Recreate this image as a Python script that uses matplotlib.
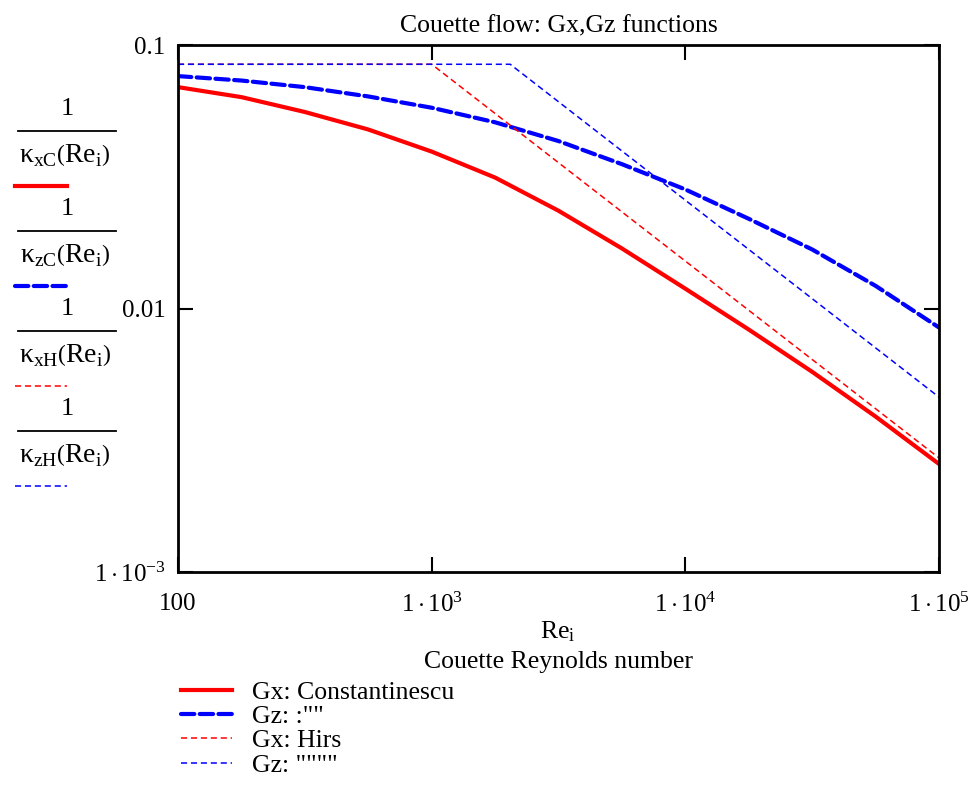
import matplotlib
matplotlib.use("Agg")
import matplotlib.pyplot as plt
from matplotlib.lines import Line2D

plt.rcParams["font.family"] = ["Liberation Serif", "DejaVu Serif"]
plt.rcParams["mathtext.fontset"] = "custom"
plt.rcParams["mathtext.rm"] = "Liberation Serif"
plt.rcParams["mathtext.it"] = "Liberation Serif:italic"
plt.rcParams["mathtext.default"] = "rm"

# Couette Reynolds number samples
re_c = [100, 178, 316, 562, 1000, 1778, 3162, 5623, 10000, 17783, 31623, 56234, 100000]
# Gx: Constantinescu (1/kappa_xC)
gx_const = [0.0692, 0.0634, 0.0557, 0.0478, 0.0394, 0.0314, 0.0235, 0.0169,
            0.01189, 0.00832, 0.00575, 0.00389, 0.00257]
# Gz: Constantinescu (1/kappa_zC)
gz_const = [0.0762, 0.0733, 0.0692, 0.0638, 0.0578, 0.0509, 0.0432, 0.0353,
            0.0283, 0.0219, 0.01675, 0.01219, 0.00847]
# Hirs (1/kappa_xH, 1/kappa_zH)
re_hx = [100, 1000, 100000]
gx_hirs = [0.0845, 0.0845, 0.00271]
re_hz = [100, 2040, 100000]
gz_hirs = [0.0845, 0.0845, 0.00461]

legend_labels = ["Gx: Constantinescu", 'Gz: :""', "Gx: Hirs", 'Gz: """"']
kappa_labels = [r"$\kappa_{xC}\left(Re_{i}\right)$", r"$\kappa_{zC}\left(Re_{i}\right)$",
                r"$\kappa_{xH}\left(Re_{i}\right)$", r"$\kappa_{zH}\left(Re_{i}\right)$"]
xticks = [100, 1000, 10000, 100000]
xtick_labels = ["100", r"$1\cdot10^{3}$", r"$1\cdot10^{4}$", r"$1\cdot10^{5}$"]
yticks = [0.001, 0.01, 0.1]
ytick_labels = [r"$1\cdot10^{-3}$", "0.01", "0.1"]

W, H = 969, 793
fx = lambda px: px / W
fy = lambda py: 1 - py / H

fig = plt.figure(figsize=(W / 100, H / 100), dpi=100)
ax = fig.add_axes([fx(178), fy(572), (939 - 178) / W, (572 - 45) / H])

styles = [
    dict(color="red", lw=3.0, ls="-"),
    dict(color="blue", lw=3.0, ls=(0, (3.2, 1.3)), dash_capstyle="round"),
    dict(color="red", lw=1.1, ls=(0, (4, 2.5))),
    dict(color="blue", lw=1.1, ls=(0, (4, 2.5))),
]
series = [(re_c, gx_const), (re_c, gz_const), (re_hx, gx_hirs), (re_hz, gz_hirs)]

handles = []
for (x, y), st, lab in zip(series, styles, legend_labels):
    ln, = ax.plot(x, y, label=lab, **st)
    handles.append(ln)

ax.set_xscale("log")
ax.set_yscale("log")
ax.set_xlim(100, 100000)
ax.set_ylim(0.001, 0.1)
ax.set_xticks(xticks, xtick_labels)
ax.set_yticks(yticks, ytick_labels)
ax.minorticks_off()
ax.tick_params(direction="in", length=11, width=1.5, labelsize=18,
               top=True, right=True, pad=9)
ax.tick_params(axis="x", pad=15)
for s in ax.spines.values():
    s.set_linewidth(2)
ax.set_title("Couette flow: Gx,Gz functions", fontsize=18.5, pad=9)

fig.text(fx(558), fy(632), r"$Re_{i}$", ha="center", va="center", fontsize=18.5)
fig.text(fx(558), fy(662), "Couette Reynolds number", ha="center", va="center", fontsize=18.5)

# left-hand stacked labels
for i, (st, kl) in enumerate(zip(styles, kappa_labels)):
    y0 = 109 + i * 100
    fig.text(fx(67), fy(y0), "1", ha="center", va="center", fontsize=19)
    fig.add_artist(Line2D([fx(18), fx(116)], [fy(y0 + 22), fy(y0 + 22)],
                          color="black", lw=1.3, transform=fig.transFigure))
    fig.text(fx(65), fy(y0 + 46), kl, ha="center", va="center", fontsize=20)
    fig.add_artist(Line2D([fx(15), fx(67)], [fy(y0 + 77), fy(y0 + 77)],
                          transform=fig.transFigure, **st))

ax.legend(handles=handles, loc="upper left", bbox_to_anchor=(fx(168), fy(668)),
          bbox_transform=fig.transFigure, frameon=False, fontsize=18.5,
          handlelength=2.0, handletextpad=0.75, labelspacing=0.05, borderpad=0)

fig.savefig("out.png", dpi=100)
